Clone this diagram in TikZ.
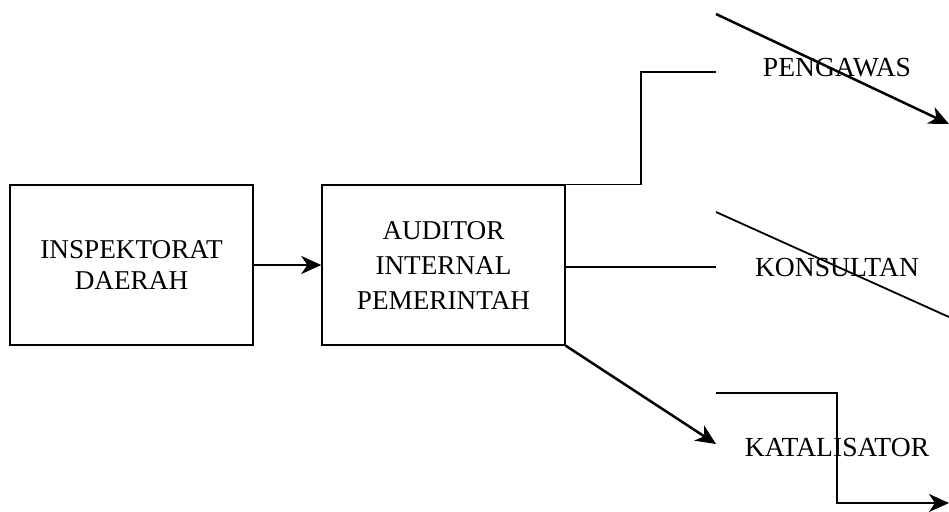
\documentclass[tikz,border=0pt]{standalone}
\usepackage{fontspec}
\setmainfont{Liberation Serif}
\usetikzlibrary{arrows.meta}
\begin{document}
\begin{tikzpicture}[x=0.5pt,y=-0.5pt,
    box/.style={draw,line width=0.7pt,minimum width=121.5pt,minimum height=80pt,align=center,inner sep=0,font=\fontsize{13.6}{17.5}\selectfont},
    role/.style={inner sep=0,font=\fontsize{13.8}{16}\selectfont},
    link/.style={line width=0.7pt},
    flow/.style={line width=1.25pt,-{Stealth[length=10pt,width=9pt,inset=3pt]}}]
    \useasboundingbox (0,0) rectangle (949,511);
    \node[box,font=\fontsize{13.6}{15.5}\selectfont] at (131.5,265) (inspektorat) {INSPEKTORAT\\DAERAH};
    \node[box] at (443.5,265) (auditor) {AUDITOR\\INTERNAL\\PEMERINTAH};
    \node[role] at (837,68) (pengawas) {PENGAWAS};
    \node[role] at (837,267) (konsultan) {KONSULTAN};
    \node[role] at (837,447) (katalisator) {KATALISATOR};
    \coordinate (p1) at (716,72);
    \coordinate (k1) at (716,267);
    \coordinate (t1) at (716,444);
    \draw[flow] (inspektorat) -- (auditor);
    \draw[link] (auditor.north east) -| (641,72) -- (p1);
    \draw[link] (auditor.east |- k1) -- (k1);
    \draw[flow] (auditor.south east) -- (t1);
    % garis keluar
    \draw[flow] (716,14) -- (949,124);
    \draw[line width=0.9pt] (716,212) -- (949,317);
    \draw[flow] (716,393) -- (837,393) -- (837,503) -- (949,503);
\end{tikzpicture}
\end{document}
